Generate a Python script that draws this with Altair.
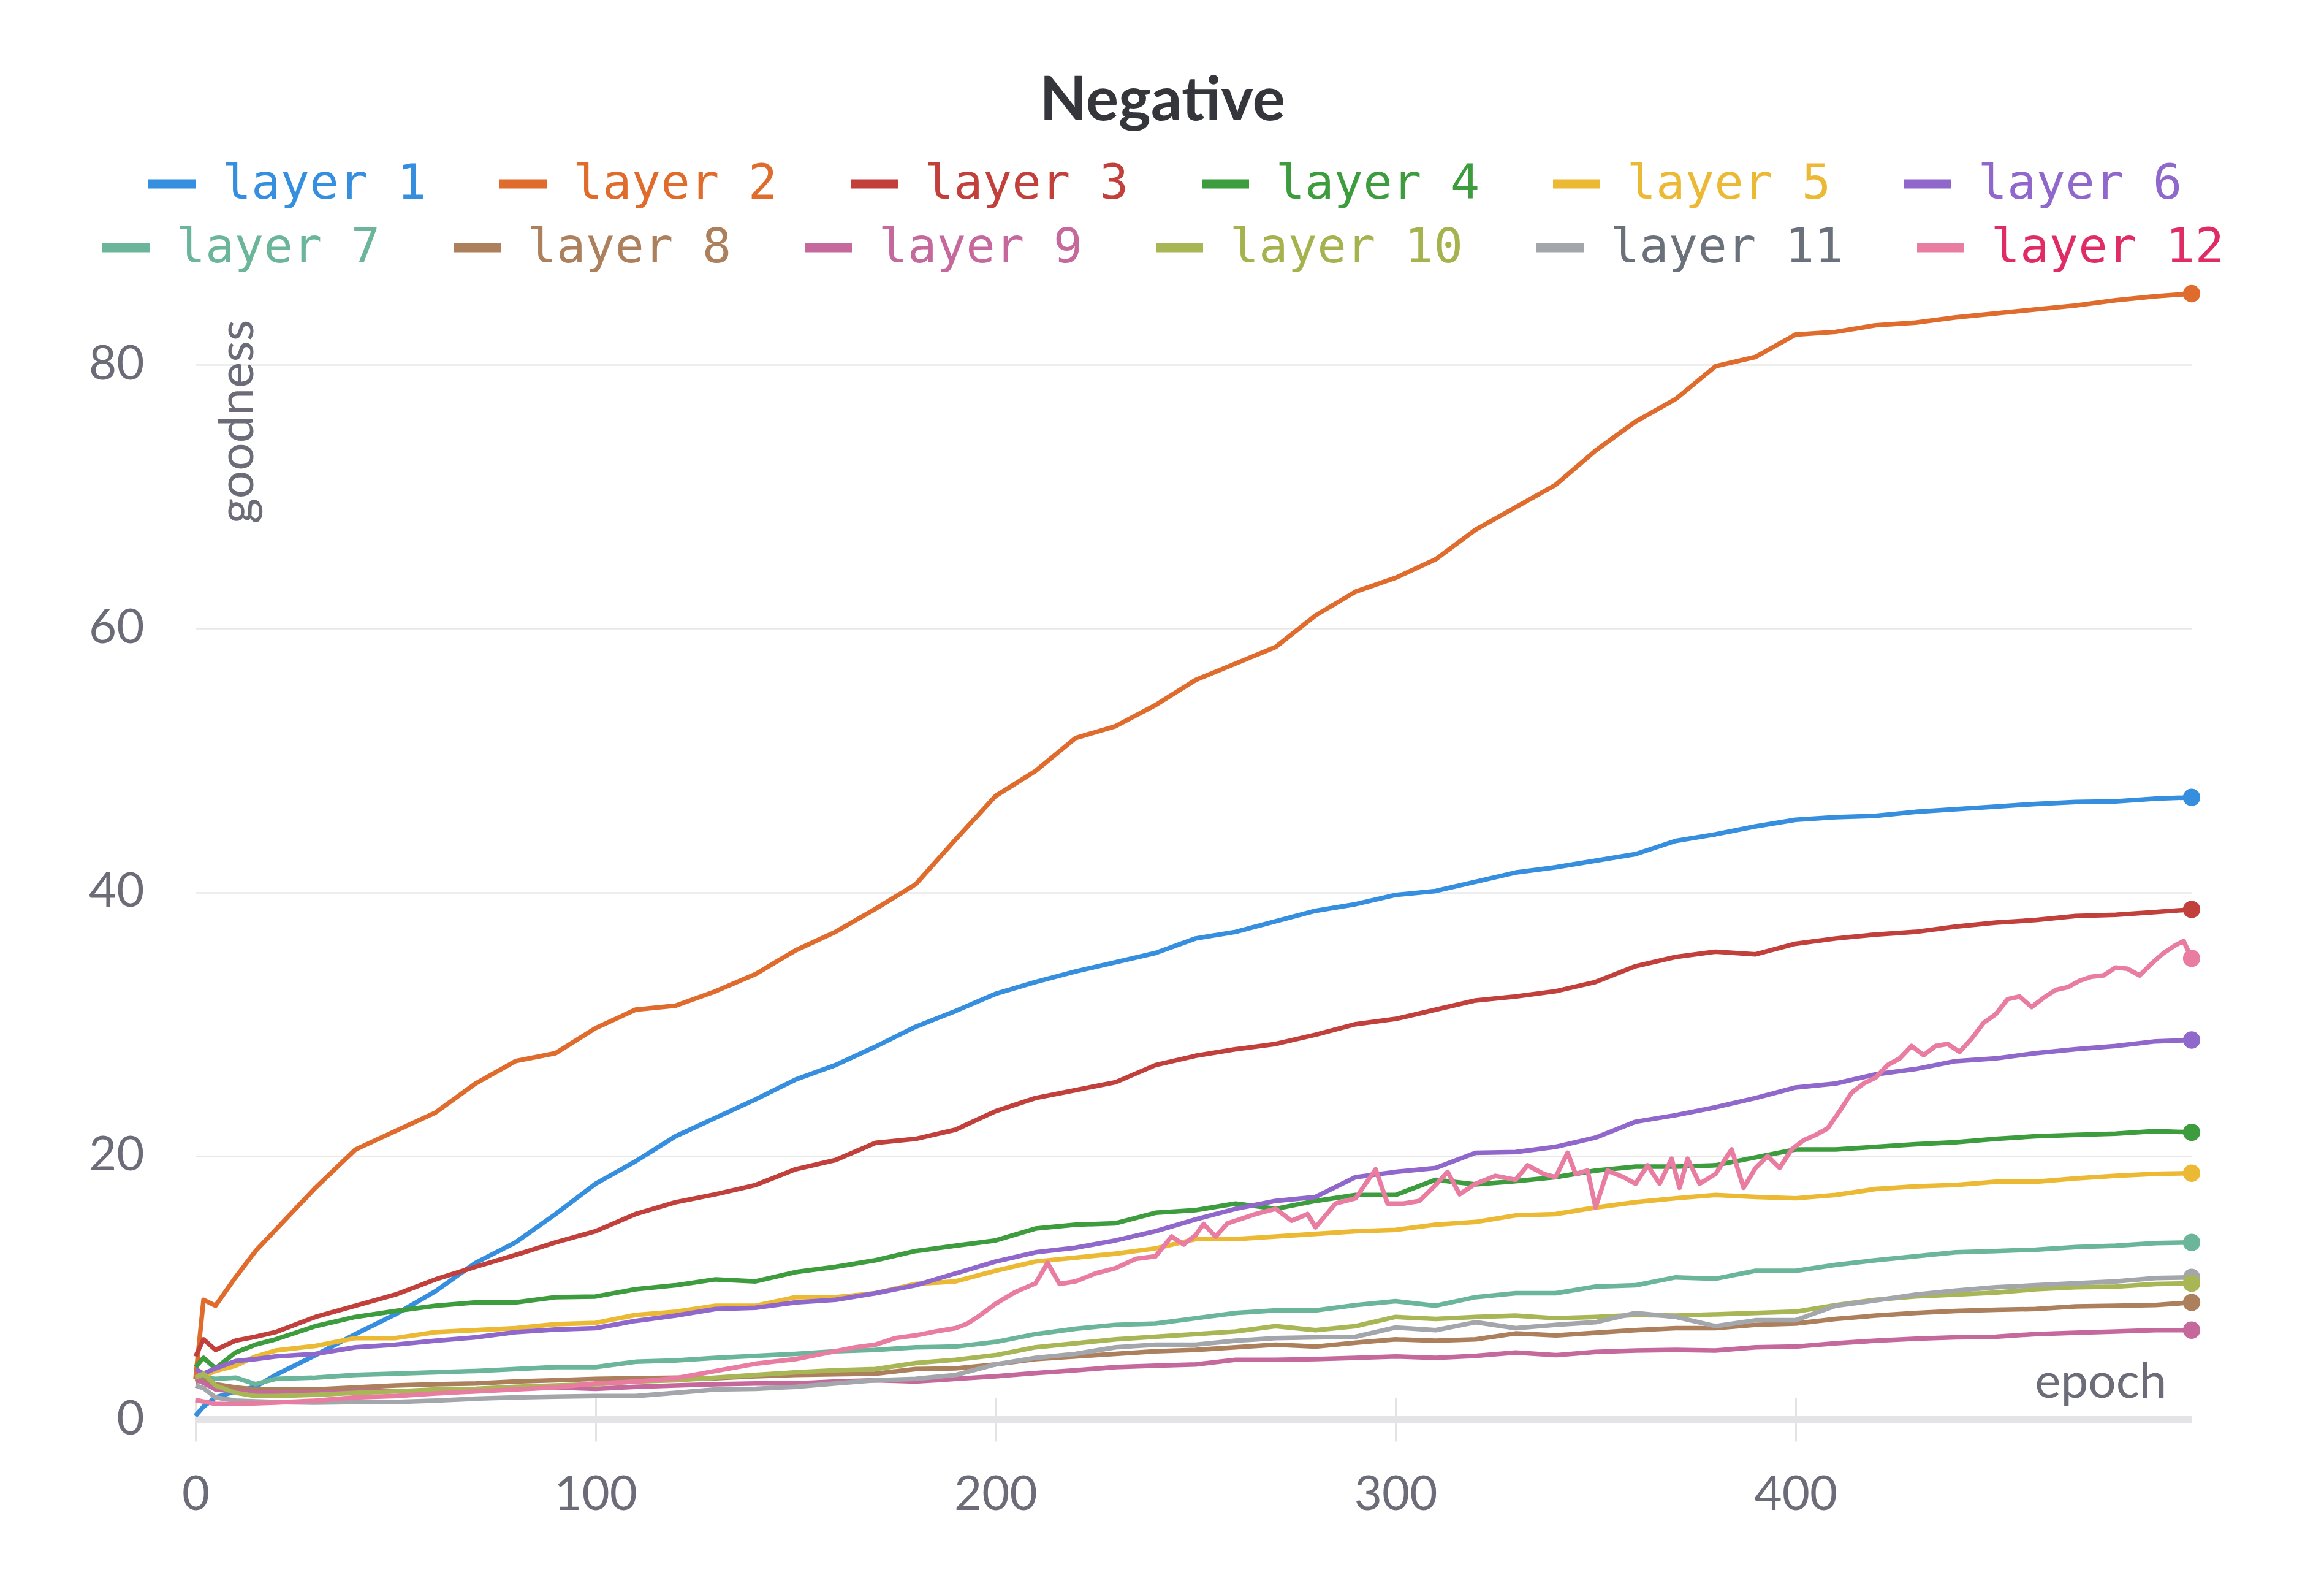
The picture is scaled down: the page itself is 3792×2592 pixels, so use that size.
import altair as alt
import pandas as pd

# ---------------- data ----------------
LAYERS = ["layer 1", "layer 2", "layer 3", "layer 4", "layer 5", "layer 6",
          "layer 7", "layer 8", "layer 9", "layer 10", "layer 11", "layer 12"]

EPOCHS = [0, 2, 5, 10, 15, 20,
          30, 40, 50, 60, 70, 80, 90, 100, 110, 120,
          130, 140, 150, 160, 170, 180, 190, 200, 210, 220,
          230, 240, 250, 260, 270, 280, 290, 300, 310, 320,
          330, 340, 350, 360, 370, 380, 390, 400, 410, 420,
          430, 440, 450, 460, 470, 480, 490,
          499]

L1 = [0.3, 1.0, 1.7, 2.15, 2.5, 3.4,
      4.9, 6.5, 8.0, 9.75, 11.9, 13.45, 15.6, 17.9, 19.6, 21.5,
      22.9, 24.3, 25.8, 26.9, 28.3, 29.8, 31.0, 32.3, 33.2, 34.0,
      34.7, 35.4, 36.5, 37.0, 37.8, 38.6, 39.1, 39.8, 40.1, 40.8,
      41.5, 41.9, 42.4, 42.9, 43.9, 44.4, 45.0, 45.5, 45.7, 45.8,
      46.1, 46.3, 46.5, 46.7, 46.85, 46.9, 47.1,
      47.2]
L2 = [3.1, 9.1, 8.65, 10.8, 12.8, 14.4,
      17.6, 20.5, 21.9, 23.3, 25.5, 27.2, 27.8, 29.7, 31.1, 31.4,
      32.5, 33.8, 35.6, 37.0, 38.75, 40.6, 44.0, 47.3, 49.2, 51.7,
      52.6, 54.2, 56.1, 57.35, 58.6, 61.0, 62.8, 63.85, 65.25, 67.5,
      69.2, 70.9, 73.5, 75.7, 77.4, 79.9, 80.6, 82.3, 82.5, 83.0,
      83.2, 83.6, 83.9, 84.2, 84.5, 84.9, 85.2,
      85.4]
L3 = [4.8, 6.1, 5.3, 6.0, 6.3, 6.65,
      7.8, 8.65, 9.5, 10.65, 11.6, 12.5, 13.45, 14.3, 15.6, 16.5,
      17.1, 17.8, 19.0, 19.7, 21.0, 21.3, 22.0, 23.4, 24.4, 25.0,
      25.6, 26.9, 27.6, 28.1, 28.5, 29.2, 30.0, 30.4, 31.1, 31.8,
      32.1, 32.5, 33.2, 34.4, 35.1, 35.5, 35.3, 36.1, 36.5, 36.8,
      37.0, 37.4, 37.7, 37.9, 38.2, 38.3, 38.5,
      38.7]
L4 = [4.0, 4.7, 3.9, 5.1, 5.7, 6.1,
      7.1, 7.8, 8.25, 8.65, 8.9, 8.9, 9.3, 9.35, 9.9, 10.2,
      10.65, 10.5, 11.2, 11.6, 12.1, 12.8, 13.2, 13.6, 14.5, 14.8,
      14.9, 15.7, 15.9, 16.4, 16.0, 16.6, 17.05, 17.05, 18.2, 17.85,
      18.1, 18.4, 18.9, 19.2, 19.2, 19.3, 19.9, 20.5, 20.5, 20.7,
      20.9, 21.05, 21.3, 21.5, 21.6, 21.7, 21.9,
      21.8]
L5 = [3.2, 3.3, 3.7, 4.1, 4.8, 5.25,
      5.6, 6.2, 6.2, 6.65, 6.8, 6.95, 7.25, 7.35, 7.95, 8.2,
      8.65, 8.65, 9.3, 9.3, 9.6, 10.3, 10.5, 11.3, 12.0, 12.3,
      12.6, 13.0, 13.7, 13.7, 13.9, 14.1, 14.3, 14.4, 14.8, 15.0,
      15.5, 15.6, 16.1, 16.5, 16.8, 17.05, 16.9, 16.8, 17.05, 17.5,
      17.7, 17.8, 18.05, 18.05, 18.3, 18.5, 18.65,
      18.7]
L6 = [3.85, 3.5, 3.9, 4.45, 4.6, 4.8,
      5.0, 5.5, 5.7, 6.0, 6.25, 6.65, 6.85, 6.95, 7.5, 7.9,
      8.4, 8.5, 8.9, 9.1, 9.6, 10.2, 11.1, 12.0, 12.7, 13.05,
      13.6, 14.3, 15.2, 16.0, 16.6, 16.9, 18.4, 18.8, 19.1, 20.25,
      20.3, 20.7, 21.4, 22.6, 23.1, 23.7, 24.4, 25.2, 25.5, 26.2,
      26.6, 27.2, 27.4, 27.8, 28.1, 28.35, 28.7,
      28.8]
L7 = [3.1, 3.2, 3.1, 3.2, 2.7, 3.1,
      3.2, 3.4, 3.5, 3.6, 3.7, 3.85, 4.0, 4.0, 4.4, 4.5,
      4.7, 4.85, 5.0, 5.2, 5.3, 5.5, 5.55, 5.9, 6.5, 6.9,
      7.2, 7.3, 7.7, 8.1, 8.3, 8.3, 8.7, 9.0, 8.65, 9.3,
      9.6, 9.6, 10.1, 10.2, 10.8, 10.7, 11.3, 11.3, 11.75, 12.1,
      12.4, 12.7, 12.8, 12.9, 13.1, 13.2, 13.4,
      13.45]
L8 = [2.9, 3.0, 2.7, 2.45, 2.3, 2.3,
      2.3, 2.45, 2.6, 2.7, 2.75, 2.9, 3.0, 3.1, 3.15, 3.2,
      3.15, 3.3, 3.4, 3.45, 3.5, 3.85, 3.9, 4.2, 4.6, 4.8,
      5.0, 5.2, 5.3, 5.5, 5.7, 5.55, 5.85, 6.1, 6.0, 6.1,
      6.55, 6.4, 6.6, 6.8, 6.95, 6.95, 7.2, 7.3, 7.65, 7.9,
      8.1, 8.25, 8.35, 8.4, 8.6, 8.65, 8.7,
      8.9]
L9 = [3.1, 2.8, 2.3, 2.15, 2.1, 2.05,
      2.05, 2.15, 2.2, 2.2, 2.3, 2.35, 2.45, 2.35, 2.5, 2.6,
      2.7, 2.75, 2.75, 2.9, 3.0, 2.9, 3.1, 3.3, 3.55, 3.75,
      4.0, 4.1, 4.2, 4.55, 4.55, 4.6, 4.7, 4.8, 4.7, 4.85,
      5.1, 4.9, 5.15, 5.25, 5.3, 5.25, 5.5, 5.55, 5.8, 6.0,
      6.15, 6.25, 6.3, 6.5, 6.6, 6.7, 6.8,
      6.8]
L10 = [3.2, 3.5, 2.6, 2.05, 1.8, 1.8,
       1.9, 2.05, 2.15, 2.3, 2.35, 2.5, 2.6, 2.7, 2.9, 3.0,
       3.2, 3.4, 3.6, 3.75, 3.85, 4.3, 4.55, 4.9, 5.5, 5.8,
       6.1, 6.3, 6.5, 6.7, 7.1, 6.8, 7.1, 7.8, 7.65, 7.8,
       7.9, 7.7, 7.8, 7.95, 7.9, 8.0, 8.1, 8.2, 8.7, 9.1,
       9.35, 9.5, 9.65, 9.9, 10.05, 10.1, 10.3,
       10.35]
L11 = [2.6, 2.4, 1.7, 1.45, 1.4, 1.35,
       1.3, 1.35, 1.35, 1.45, 1.6, 1.7, 1.75, 1.8, 1.8, 2.05,
       2.3, 2.35, 2.5, 2.75, 3.0, 3.1, 3.4, 4.2, 4.7, 5.0,
       5.5, 5.7, 5.7, 6.0, 6.2, 6.25, 6.3, 7.0, 6.8, 7.4,
       6.95, 7.2, 7.4, 8.1, 7.8, 7.1, 7.55, 7.55, 8.65, 9.05,
       9.5, 9.8, 10.05, 10.2, 10.35, 10.5, 10.75,
       10.8]

EPOCHS_12 = [0, 5, 10, 20, 30, 40, 50, 60, 70, 80, 90, 100, 110, 120, 130, 140, 150,
             160, 165, 170, 175, 180, 185, 190, 193, 196, 200, 205, 210, 213, 216,
             220, 225, 230, 235, 240, 244, 247, 250, 252, 255, 258, 260, 265, 270,
             274, 278, 280, 285, 290, 295, 298, 302, 306, 310, 313, 316, 320, 325,
             330, 333, 337, 340, 343, 345, 348, 350, 353, 357, 360, 363, 366, 369,
             371, 373, 376, 380, 384, 387, 390, 393, 396, 399, 402, 405, 408, 411,
             414, 417, 420, 423, 426, 429, 432, 435, 438, 441, 444, 447, 450, 453,
             456, 459, 462, 465, 468, 471, 474, 477, 480, 483, 486, 489, 492, 495,
             497, 499]
L12 = [1.5, 1.2, 1.2, 1.3, 1.45, 1.7, 1.8, 2.0, 2.15, 2.3, 2.45, 2.75, 2.9, 3.15, 3.7, 4.25, 4.6,
       5.2, 5.5, 5.7, 6.2, 6.4, 6.7, 6.95, 7.3, 7.9, 8.8, 9.7, 10.35, 11.9, 10.3,
       10.5, 11.1, 11.5, 12.2, 12.4, 13.9, 13.3, 14.0, 14.85, 13.9, 14.9, 15.1, 15.6, 16.0,
       15.1, 15.6, 14.6, 16.4, 16.8, 19.0, 16.4, 16.4, 16.6, 17.8, 18.8, 17.1, 17.9, 18.5,
       18.2, 19.3, 18.65, 18.4, 20.25, 18.65, 18.9, 16.1, 18.9, 18.4, 17.9, 19.3, 17.9, 19.8,
       17.6, 19.8, 17.9, 18.65, 20.5, 17.6, 19.1, 20.0, 19.1, 20.5, 21.2, 21.6, 22.1, 23.4,
       24.8, 25.5, 25.95, 26.9, 27.4, 28.35, 27.65, 28.35, 28.5, 27.9, 28.9, 30.1, 30.75, 31.9,
       32.1, 31.3, 32.0, 32.6, 32.8, 33.3, 33.6, 33.7, 34.3, 34.2, 33.7, 34.6, 35.4, 36.0,
       36.3, 35.0]

COLORS = ["#358ede", "#df6b2c", "#c2403b", "#3d9c3e", "#ecb935", "#9068cc",
          "#6bb69b", "#ad805d", "#c5689c", "#a9b655", "#a3a7ab", "#e97ca1"]
LABEL_COLORS = ["#358ede", "#df6b2c", "#c2403b", "#3d9c3e", "#ecb935", "#9068cc",
                "#6bb69b", "#ad805d", "#c5689c", "#a5b24e", "#6b717a", "#df2c64"]

# ---------------- table ----------------
rows = []
for name, vals in zip(LAYERS[:11], [L1, L2, L3, L4, L5, L6, L7, L8, L9, L10, L11]):
    for e, v in zip(EPOCHS, vals):
        rows.append({"layer": name, "epoch": e, "value": v})
for e, v in zip(EPOCHS_12, L12):
    rows.append({"layer": "layer 12", "epoch": e, "value": v})
df = pd.DataFrame(rows)
df["idx"] = df["layer"].map({n: i for i, n in enumerate(LAYERS)})
last = df.sort_values("epoch").groupby("layer").tail(1)

dfA = df[df["idx"] < 6]
dfB = df[df["idx"] >= 6]
lastA = last[last["idx"] < 6]
lastB = last[last["idx"] >= 6]

YMAX = max(L2)
GRAY = "#6b6c77"
FONT = "Lato"

xaxis = alt.Axis(values=[0, 100, 200, 300, 400], grid=False, domain=False,
                 ticks=True, tickColor="#e4e4e7", tickWidth=3, tickSize=71, offset=-36,
                 labelPadding=49, labelFont=FONT, labelFontSize=78, labelColor=GRAY,
                 labelFlush=False, title="epoch", titleFont=FONT, titleFontSize=80,
                 titleFontWeight="normal", titleColor=GRAY, titleX=3216, titleY=-1,
                 titleAlign="right", titleBaseline="alphabetic")
yaxis = alt.Axis(values=[0, 20, 40, 60, 80], grid=True, gridColor="#e8e8e8", gridWidth=2.5,
                 domain=False, ticks=False, tickSize=0, labelPadding=84, labelFont=FONT,
                 labelFontSize=78, labelColor=GRAY, title="goodness", titleFont=FONT,
                 titleFontSize=80, titleFontWeight="normal", titleColor=GRAY,
                 titleAngle=270, titleX=93, titleY=42, titleAlign="right",
                 titleBaseline="alphabetic")

YSCALE = alt.Scale(domain=[0, YMAX], nice=False)
X = alt.X("epoch:Q", scale=alt.Scale(domain=[0, 499], nice=False, zero=False), axis=xaxis)
Y = alt.Y("value:Q", scale=YSCALE, axis=yaxis)

label_map = "{" + ",".join(f"'{n}':'{c}'" for n, c in zip(LAYERS, LABEL_COLORS)) + "}[datum.label]"


def legend(x, y):
    return alt.Legend(title=None, orient="none", legendX=x, legendY=y, direction="horizontal",
                      columns=6, gridAlign="none", symbolType="stroke", symbolSize=5929,
                      symbolStrokeWidth=15, symbolOpacity=1, labelFont="DejaVu Sans Mono",
                      labelFontSize=79, labelOffset=36, columnPadding=89, padding=0,
                      labelLimit=0, labelColor=alt.ExprRef(expr=label_map))


def group(d, dl, names, colors, leg):
    color = alt.Color("layer:N", scale=alt.Scale(domain=names, range=colors), legend=leg,
                      sort=names)
    line = alt.Chart(d).mark_line(strokeWidth=7.5, strokeJoin="round").encode(
        x=X, y=Y, color=color, order="epoch:Q")
    pts = alt.Chart(dl).mark_point(filled=True, size=800, opacity=1).encode(
        x=X, y=Y, color=color)
    return alt.layer(line, pts)


band = alt.Chart(df).mark_rule(color="#e4e4e7", strokeWidth=12).encode(
    y=alt.YDatum(0, scale=YSCALE, axis=yaxis))

gA = group(dfA, lastA, LAYERS[:6], COLORS[:6], legend(-84.5, -225))
gB = group(dfB, lastB, LAYERS[6:], COLORS[6:], legend(-159.5, -121))

chart = alt.layer(band, gA, gB).resolve_scale(color="independent").properties(
    width=3257, height=1837,
    padding={"left": 311, "top": 471, "right": 208, "bottom": 268},
    autosize=alt.AutoSizeParams(type="none"),
    title=alt.TitleParams("Negative", font=FONT, fontSize=100, fontWeight="bold",
                          color="#35363b", anchor="middle", frame="group", dx=-51, offset=37),
    background="white",
).configure_view(stroke=None)

chart.save("out.html", embed_options={"renderer": "svg", "actions": False})
